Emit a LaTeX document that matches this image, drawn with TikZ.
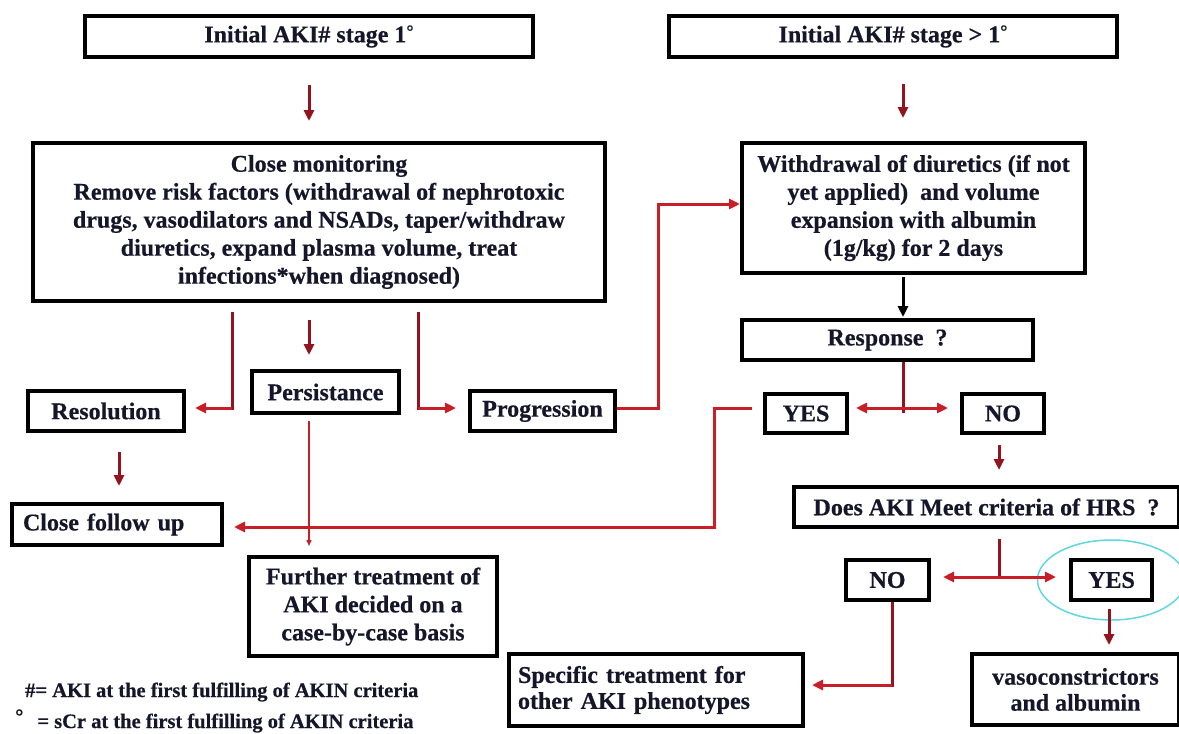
\documentclass[tikz,border=0pt]{standalone}
\usepackage{fontspec}
\setmainfont{Liberation Serif}[BoldFeatures={FakeBold=0.5}]
\usetikzlibrary{arrows.meta}
\definecolor{txt}{RGB}{22,22,42}
\definecolor{ared}{RGB}{200,30,40}
\definecolor{dred}{RGB}{145,20,30}
\definecolor{ecyan}{RGB}{95,215,225}
\begin{document}
\begin{tikzpicture}[x=1pt,y=-1pt,
  box/.style={draw=black,line width=4pt,fill=white,text=txt,
    font=\fontsize{24}{28}\selectfont\bfseries,align=center,inner sep=0pt},
  arr/.style={draw=ared,line width=3pt,-{Triangle[length=11pt,width=10pt]}},
  darr/.style={draw=dred,line width=3pt,-{Triangle[length=11pt,width=10pt]},color=dred},
  blkarr/.style={draw=black,line width=3pt,-{Triangle[length=11pt,width=10pt]}},
  thinarr/.style={draw=ared,line width=1.3pt,-{Triangle[length=6pt,width=5pt]}},
  ln/.style={draw=dred,line width=3pt},
  fn/.style={text=txt,font=\fontsize{20.5}{24}\selectfont\bfseries,inner sep=0pt}
]
\useasboundingbox (0,0) rectangle (1179,734);
\fill[white] (0,0) rectangle (1179,734);

% boxes
\node[box,minimum width=448pt,minimum height=41pt] (A) at (309,36.5)
  {Initial AKI\# stage 1\raisebox{5pt}{\fontsize{18}{18}\selectfont °}};
\node[box,minimum width=448pt,minimum height=41pt] (B) at (893,36.5)
  {Initial AKI\# stage > 1\raisebox{5pt}{\fontsize{18}{18}\selectfont °}};
\node[box,minimum width=572pt,minimum height=158pt] (C) at (319,222)
  {Close monitoring\\Remove risk factors (withdrawal of nephrotoxic\\drugs, vasodilators and NSADs, taper/withdraw\\diuretics, expand plasma volume, treat\\infections*when diagnosed)};
\node[box,minimum width=343pt,minimum height=130pt] (D) at (913.5,208)
  {Withdrawal of diuretics (if not\\yet applied)\ \ and volume\\expansion with albumin\\(1g/kg) for 2 days};
\node[box,minimum width=291pt,minimum height=40pt] (Resp) at (887.5,340) {Response\ \ ?};
\node[box,minimum width=82pt,minimum height=39pt] (Y1) at (806,413.5) {YES};
\node[box,minimum width=82pt,minimum height=39pt] (N1) at (1003,413.5) {NO};
\node[box,minimum width=145pt,minimum height=40pt] (Prog) at (542.5,411) {Progression};
\node[box,minimum width=156pt,minimum height=40pt] (Res) at (106,411) {Resolution};
\node[box,minimum width=147pt,minimum height=42pt] (Pers) at (325.5,392) {Persistance};
\node[box,minimum height=41pt,text width=188pt,inner xsep=11pt,align=left] (CFU) at (117,524.5) {Close follow up};
\node[box,minimum width=248pt,minimum height=99pt] (Fur) at (373,606.5)
  {Further treatment of\\AKI decided on a\\case-by-case basis};
\node[box,minimum height=72pt,text width=276pt,inner xsep=9pt,align=left,
  font=\fontsize{24}{26}\selectfont\bfseries] (Spec) at (656,690)
  {Specific treatment for\\other AKI phenotypes};
\node[box,minimum width=385pt,minimum height=40pt] (Does) at (986.5,507)
  {Does AKI Meet criteria of HRS\ \ ?};
\node[box,minimum width=83pt,minimum height=40pt] (N2) at (887.5,580) {NO};
\node[box,minimum width=81pt,minimum height=40pt] (Y2) at (1111.5,580) {YES};
\node[box,minimum width=207pt,minimum height=71pt,
  font=\fontsize{24}{26}\selectfont\bfseries] (Vaso) at (1075.5,689.5)
  {vasoconstrictors\\and albumin};

% highlight ellipse
\draw[ecyan,line width=1.5pt] (Y2.center) ellipse [x radius=74, y radius=40];

% junction coordinates
\coordinate (cR) at (232,408);
\coordinate (cP) at (418,408);
\coordinate (pj) at (658,408);
\coordinate (rj) at (903,408);
\coordinate (yj) at (714,408);
\coordinate (yk) at (714,527);
\coordinate (dj) at (999,577);
\coordinate (nj) at (892,685);

% connectors
\draw[darr,shorten <=26pt,shorten >=20pt] (A.south) -- (A.south |- C.north);
\draw[darr,shorten <=25pt,shorten >=23pt] (903,0 |- B.south) -- (903,0 |- D.north);

\draw[ln,shorten <=9pt] (cR |- C.south) -- ([yshift=-2pt]cR);
\draw[arr,shorten >=9pt] (cR) -- (cR -| Res.east);
\draw[darr,shorten <=17pt,shorten >=14pt] (309,0 |- C.south) -- (309,0 |- Pers.north);
\draw[ln,shorten <=9pt] (cP |- C.south) -- ([yshift=-2pt]cP);
\draw[arr,shorten >=12pt] (cP) -- (cP -| Prog.west);

\draw[arr] ([yshift=3pt]Prog.east) -- (pj) |- ([yshift=4pt]D.west);

\draw[blkarr,shorten <=2pt,shorten >=1pt] (903,0 |- D.south) -- (903,0 |- Resp.north);
\draw[ln] (903,0 |- Resp.south) -- ([yshift=-5pt]rj);
\draw[arr,shorten >=7pt] (rj) -- (rj -| Y1.east);
\draw[arr,shorten >=12pt] (rj) -- (rj -| N1.west);

\draw[arr,shorten <=11pt,shorten >=10pt] (rj -| Y1.west) -- (yj) -- (yk) -- (yk -| CFU.east);

\draw[darr,shorten <=19pt,shorten >=16pt] (119,0 |- Res.south) -- (119,0 |- CFU.north);
\draw[thinarr,shorten <=6pt,shorten >=9pt] (309,0 |- Pers.south) -- (309,0 |- Fur.north);

\draw[darr,shorten <=10pt,shorten >=15pt] (dj |- N1.south) -- (dj |- Does.north);
\draw[ln,shorten <=10pt] (dj |- Does.south) -- ([yshift=-2pt]dj);
\draw[arr,shorten >=12pt] (dj) -- (dj -| N2.east);
\draw[arr,shorten >=13pt] (dj) -- (dj -| Y2.west);

\draw[darr,shorten <=7pt,shorten >=7pt] (1109,0 |- Y2.south) -- (1109,0 |- Vaso.north);
\draw[ln] (nj |- N2.south) -- ([yshift=-1.5pt]nj);
\draw[arr,shorten >=7pt] (nj) -- (nj -| Spec.east);

% footnotes
\node[fn,anchor=base west] (f1) at (25,697) {\#= AKI at the first fulfilling of AKIN criteria};
\node[fn,anchor=base west] (f2) at (15,728) {\raisebox{5pt}{°}\hspace{14pt}= sCr at the first fulfilling of AKIN criteria};
\end{tikzpicture}
\end{document}
